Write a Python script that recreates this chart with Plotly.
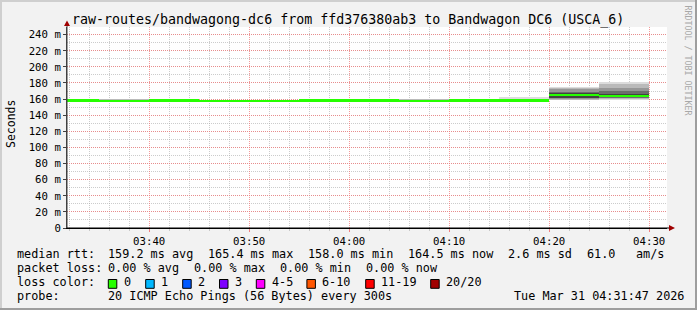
import plotly.graph_objects as go
import pandas as pd

# ---------------- data ----------------
day = "2026-03-31"
step_end = ["03:35", "03:40", "03:45", "03:50", "03:55", "04:00",
            "04:05", "04:10", "04:15", "04:20", "04:25", "04:30"]
median_ms = [158.4, 158.3, 158.5, 158.2, 158.0, 158.4,
             158.6, 158.3, 158.4, 158.8, 165.4, 164.5]

# smoke layers (ping spread per step, outer -> inner)
l1_lo = [157.6, 157.5, 157.7, 157.4, 157.2, 157.6, 157.8, 157.5, 157.6, 157.0, 158.8, 158.8]
l1_hi = [159.4, 159.3, 159.5, 159.2, 159.1, 159.4, 159.6, 159.3, 159.4, 163.0, 175.4, 181.6]
l2_lo = [157.9, 157.8, 158.0, 157.7, 157.5, 157.9, 158.1, 157.8, 157.9, 157.9, 159.2, 159.8]
l2_hi = [159.0, 158.9, 159.1, 158.8, 158.7, 159.0, 159.2, 158.9, 159.0, 159.6, 174.0, 178.3]
l3_lo = [158.1, 158.0, 158.2, 157.9, 157.7, 158.1, 158.3, 158.0, 158.1, 158.3, 159.8, 160.8]
l3_hi = [158.8, 158.7, 158.9, 158.6, 158.4, 158.8, 159.0, 158.7, 158.8, 159.3, 172.0, 174.0]
l4_lo = [158.2, 158.1, 158.3, 158.0, 157.8, 158.2, 158.4, 158.1, 158.2, 158.5, 160.8, 161.7]
l4_hi = [158.6, 158.5, 158.7, 158.4, 158.2, 158.6, 158.8, 158.5, 158.6, 159.1, 169.0, 170.0]
l5_lo = [158.3, 158.2, 158.4, 158.1, 157.9, 158.3, 158.5, 158.2, 158.3, 158.7, 161.5, 162.8]
l5_hi = [158.5, 158.4, 158.6, 158.3, 158.1, 158.5, 158.7, 158.4, 158.5, 158.9, 167.0, 166.5]

y_ticks = [0, 20, 40, 60, 80, 100, 120, 140, 160, 180, 200, 220, 240]
y_labels = ["0", "20 m", "40 m", "60 m", "80 m", "100 m", "120 m", "140 m",
            "160 m", "180 m", "200 m", "220 m", "240 m"]

title_text = "raw-routes/bandwagong-dc6 from ffd376380ab3 to Bandwagon DC6 (USCA_6)"
row1_text = ["median rtt:", "159.2 ms avg", "165.4 ms max", "158.0 ms min",
             "164.5 ms now", "2.6 ms sd", "61.0", "am/s"]
row2_text = ["packet loss:", "0.00 % avg", "0.00 % max", "0.00 % min", "0.00 % now"]
loss_names = ["0", "1", "2", "3", "4-5", "6-10", "11-19", "20/20"]
loss_colors = ["#26ff00", "#00b8ff", "#0059ff", "#7e00ff", "#ff00ff",
               "#ff5500", "#ff0000", "#a10000"]
probe_text = "20 ICMP Echo Pings (56 Bytes) every 300s"
stamp_text = "Tue Mar 31 04:31:47 2026"
t_start = "2026-03-31 03:31:47"
t_end = "2026-03-31 04:31:47"

# ---------------- geometry ----------------
FW, FH = 697, 310
L, R, T, B = 67, 667, 27, 228
PW, PH = R - L, B - T
MONO = "DejaVu Sans Mono"


def xp(px):
    return (px - L) / PW


def yp(py):
    return (B - py) / PH


ends = pd.to_datetime([f"{day} {t}" for t in step_end])
centers = ends - pd.Timedelta(seconds=150)
step_ms = 300000

fig = go.Figure()

layer_cols = ["#dcdcdc", "#bababa", "#979797", "#6c6c6c", "#424242"]
for lo, hi, col in zip([l1_lo, l2_lo, l3_lo, l4_lo, l5_lo],
                       [l1_hi, l2_hi, l3_hi, l4_hi, l5_hi], layer_cols):
    fig.add_trace(go.Bar(x=centers, base=lo, y=[h - l for h, l in zip(hi, lo)],
                         width=step_ms, marker=dict(color=col, line=dict(width=0)),
                         hoverinfo="skip", showlegend=False))

med_h = 2.4
fig.add_trace(go.Bar(x=centers, base=[m - med_h / 2 for m in median_ms],
                     y=[med_h] * len(median_ms), width=step_ms,
                     marker=dict(color=loss_colors[0], line=dict(width=0)),
                     hoverinfo="skip", showlegend=False))

grid_major = "rgba(240,120,120,0.75)"
grid_minor = "rgba(170,170,170,0.6)"
dots = "1px,1px"

fig.update_layout(
    width=FW, height=FH,
    margin=dict(l=L, r=FW - R, t=T, b=FH - B, pad=0),
    paper_bgcolor="#f2f2f2", plot_bgcolor="#ffffff",
    barmode="overlay", bargap=0, showlegend=False,
    font=dict(family=MONO, color="#000000"),
    xaxis=dict(type="date", range=[t_start, t_end], tick0="2026-03-31 03:40:00",
               dtick=600000, tickformat="%H:%M", showgrid=True,
               gridcolor=grid_major, griddash=dots, gridwidth=1,
               ticks="outside", ticklen=3, tickcolor="#f08080",
               minor=dict(dtick=120000, showgrid=True, gridcolor=grid_minor,
                          griddash=dots, ticks="outside", ticklen=2,
                          tickcolor="#c8c8c8"),
               showline=True, linecolor="#000000", linewidth=1, zeroline=False,
               tickfont=dict(family=MONO, size=10.7, color="#000000"),
               fixedrange=True),
    yaxis=dict(range=[0, 249.5], tickvals=y_ticks, ticktext=y_labels,
               showgrid=True, gridcolor=grid_major, griddash=dots,
               ticks="outside", ticklen=3, tickcolor="#404040",
               minor=dict(dtick=10, tick0=0, showgrid=True, gridcolor=grid_minor,
                          griddash=dots),
               showline=True, linecolor="#404040", linewidth=1, zeroline=False,
               tickfont=dict(family=MONO, size=10.7, color="#000000"),
               fixedrange=True),
)

shapes = []
# frame shading
shapes.append(dict(type="line", xref="paper", yref="paper", x0=xp(0), x1=xp(FW),
                   y0=yp(1), y1=yp(1), line=dict(color="#cfcfcf", width=2)))
shapes.append(dict(type="line", xref="paper", yref="paper", x0=xp(1), x1=xp(1),
                   y0=yp(0), y1=yp(FH), line=dict(color="#cfcfcf", width=2)))
shapes.append(dict(type="line", xref="paper", yref="paper", x0=xp(0), x1=xp(FW),
                   y0=yp(FH - 1), y1=yp(FH - 1), line=dict(color="#9e9e9e", width=2)))
shapes.append(dict(type="line", xref="paper", yref="paper", x0=xp(FW - 1), x1=xp(FW - 1),
                   y0=yp(0), y1=yp(FH), line=dict(color="#9e9e9e", width=2)))
# axis extensions and arrows
shapes.append(dict(type="line", xref="paper", yref="paper", x0=xp(L), x1=xp(L),
                   y0=yp(B), y1=yp(24), line=dict(color="#404040", width=1)))
shapes.append(dict(type="line", xref="paper", yref="paper", x0=xp(L), x1=xp(670),
                   y0=yp(B), y1=yp(B), line=dict(color="#000000", width=1)))
shapes.append(dict(type="path", xref="paper", yref="paper",
                   path=f"M {xp(L - 3)} {yp(26)} L {xp(L + 3)} {yp(26)} L {xp(L)} {yp(20.5)} Z",
                   fillcolor="#a00000", line=dict(width=0)))
shapes.append(dict(type="path", xref="paper", yref="paper",
                   path=f"M {xp(669)} {yp(B - 3)} L {xp(669)} {yp(B + 3)} L {xp(675)} {yp(B)} Z",
                   fillcolor="#a00000", line=dict(width=0)))

# loss colour boxes
box_x = [108.3, 145.7, 182.7, 219.5, 256.3, 306.9, 365.7, 430.7]
for bx, col in zip(box_x, loss_colors):
    shapes.append(dict(type="rect", xref="paper", yref="paper",
                       x0=xp(bx), x1=xp(bx + 8.5), y0=yp(288.3), y1=yp(279.5),
                       fillcolor=col, line=dict(color="#000000", width=1)))
fig.update_layout(shapes=shapes)


def ann(text, xpx, ypx, size=11.8, color="#000000", anchor="left", angle=0):
    fig.add_annotation(text=text, x=xp(xpx), y=yp(ypx), xref="paper", yref="paper",
                       xanchor=anchor, yanchor="middle", showarrow=False,
                       textangle=angle, borderpad=0,
                       font=dict(family=MONO, size=size, color=color))


ann(title_text, 347.5, 19.5, size=13.3, anchor="center")
ann("Seconds", 11, 124, size=11.5, angle=-90, anchor="center")
ann("RRDTOOL / TOBI OETIKER", 687.5, 60, size=8.3, color="#a8a8a8", angle=90, anchor="center")

row1_x = [16, 107.3, 207.3, 307.3, 407.6, 507.7, 586.7, 635.7]
for txt, x in zip(row1_text, row1_x):
    ann(txt, x - 0.5, 254.3)
row2_x = [16, 107.3, 193.3, 279.3, 365.7]
for txt, x in zip(row2_text, row2_x):
    ann(txt, x - 0.5, 268.3)
ann("loss color:", 15.5, 282.3)
for bx, name in zip(box_x, loss_names):
    ann(name, bx + 14.5, 282.3)
ann("probe:", 15.5, 296)
ann(probe_text, 106.8, 296)
ann(stamp_text, 512.8, 296)

fig.write_html("out.html")
